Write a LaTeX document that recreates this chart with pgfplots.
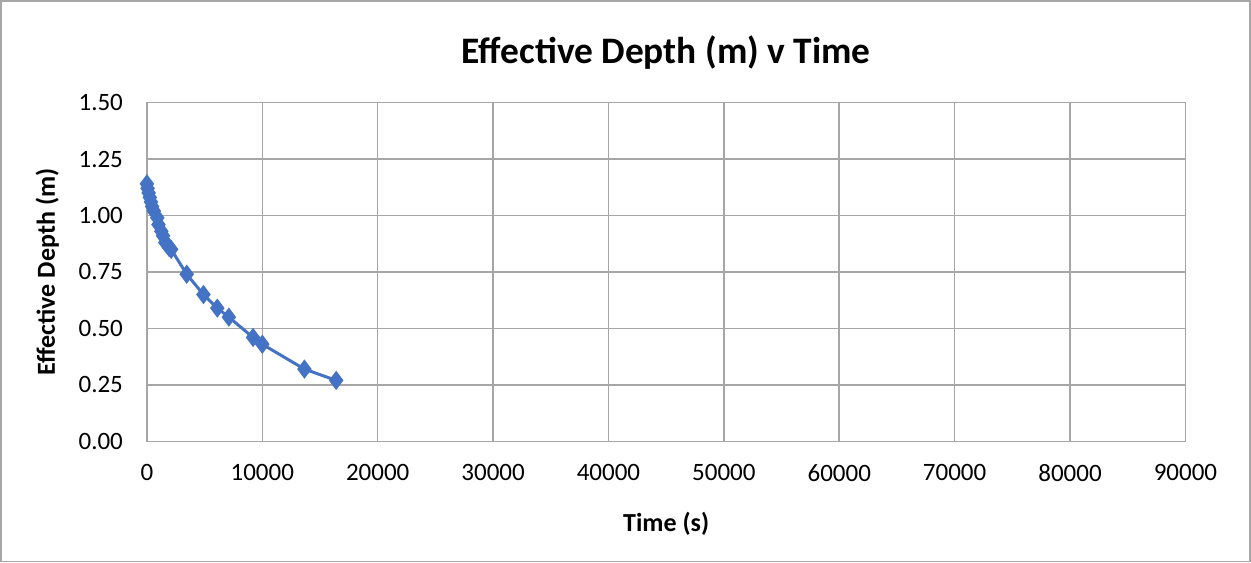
\documentclass[border=0pt]{standalone}
\usepackage{pgfplots}
\pgfplotsset{compat=1.18}
\usetikzlibrary{calc}
\usepackage{fontspec}
\setmainfont{Carlito}
\definecolor{exblue}{HTML}{4472C4}
\definecolor{gridgray}{HTML}{A6A6A6}
\begin{document}
\begin{tikzpicture}
\begin{axis}[
  name=ax, at={(0,0)}, anchor=south west,
  scale only axis, width=519.5bp, height=169.5bp,
  xmin=0, xmax=90000, ymin=0, ymax=1.5,
  xtick={0,10000,...,90000}, ytick={0,0.25,...,1.5},
  grid=major, major grid style={gridgray, line width=0.8pt},
  axis line style={gridgray, line width=0.8pt},
  tick style={draw=none},
  /pgf/number format/assume math mode=true,
  scaled ticks=false,
  x tick label style={font=\fontsize{12.5bp}{14bp}\selectfont, yshift=-8bp,
    /pgf/number format/fixed, /pgf/number format/1000 sep={}},
  y tick label style={font=\fontsize{12.5bp}{14bp}\selectfont, xshift=-8.5bp,
    /pgf/number format/fixed, /pgf/number format/fixed zerofill, /pgf/number format/precision=2},
  xlabel={\textbf{Time (s)}},
  ylabel={\textbf{Effective Depth (m)}},
  label style={font=\fontsize{13bp}{15bp}\selectfont},
  xlabel style={yshift=-8.5bp},
  ylabel style={yshift=3bp},
  title={\textbf{Effective Depth (m) v Time}},
  title style={font=\fontsize{18.7bp}{21bp}\selectfont, yshift=7bp},
]
\addplot[exblue, line width=1.5bp, mark=diamond*, mark size=3.6bp, mark options={fill=exblue, draw=exblue}]
coordinates{(0,1.14) (60,1.12) (150,1.10) (250,1.08) (350,1.06) (450,1.04) (600,1.02) (900,0.99) (1000,0.96) (1250,0.93) (1400,0.91) (1600,0.88) (1900,0.86) (2100,0.85) (3450,0.74) (4900,0.65) (6100,0.59) (7100,0.55) (9200,0.46) (10000,0.43) (13650,0.32) (16400,0.27)};
\end{axis}
\draw[gridgray, line width=0.8pt] ($(ax.south west)+(-73.1bp,-60.1bp)$) rectangle ++(625bp,280.5bp);
\end{tikzpicture}
\end{document}
